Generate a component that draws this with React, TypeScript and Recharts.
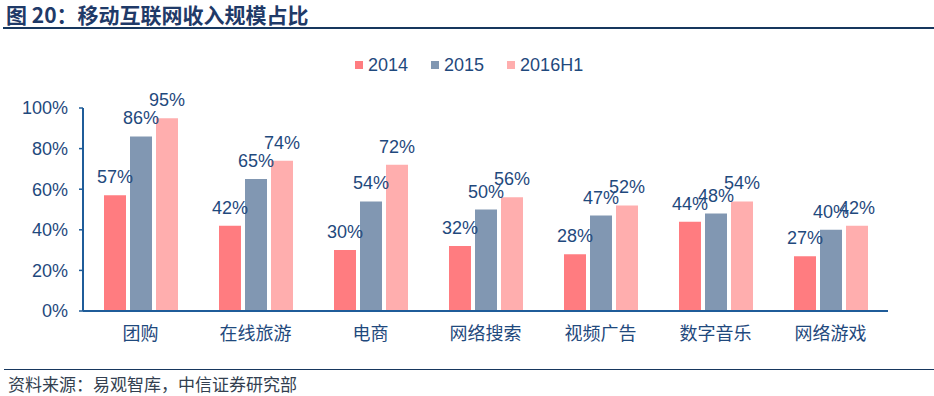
import React from "react";
import { BarChart, Bar, XAxis, YAxis, LabelList } from "recharts";

const categories = ["团购", "在线旅游", "电商", "网络搜索", "视频广告", "数字音乐", "网络游戏"];
const series2014 = [0.57, 0.42, 0.3, 0.32, 0.28, 0.44, 0.27];
const series2015 = [0.86, 0.65, 0.54, 0.5, 0.47, 0.48, 0.4];
const series2016H1 = [0.95, 0.74, 0.72, 0.56, 0.52, 0.54, 0.42];
const yTicks = [0, 0.2, 0.4, 0.6, 0.8, 1];

const seriesList = [
  { key: "y2014", name: "2014", color: "#FF7C80" },
  { key: "y2015", name: "2015", color: "#8197B2" },
  { key: "y2016H1", name: "2016H1", color: "#FFAEAE" },
];

const data = categories.map((c, i) => ({
  name: c,
  y2014: series2014[i],
  y2015: series2015[i],
  y2016H1: series2016H1[i],
}));

const FONT = "'Liberation Sans', Arial, 'Noto Sans CJK SC', sans-serif";
const TEXT = "#1F497D";
const AXIS = "#1F5C99";
const pct = (v: number) => `${Math.round(v * 100)}%`;

export default function App() {
  return (
    <div
      style={{
        position: "absolute",
        left: 0,
        top: 0,
        width: 934,
        height: 396,
        background: "#fff",
        fontFamily: FONT,
        overflow: "hidden",
      }}
    >
      <div
        style={{
          position: "absolute",
          left: 6,
          top: 1,
          fontSize: 21,
          fontWeight: "bold",
          color: "#1F3A68",
          fontFamily: "'Noto Sans CJK SC', sans-serif",
          whiteSpace: "nowrap",
          lineHeight: "26px",
        }}
      >
        图 20：移动互联网收入规模占比
      </div>
      <div
        style={{
          position: "absolute",
          left: 3,
          right: 0,
          top: 27,
          height: 2,
          background: "#17375E",
        }}
      />
      <div
        style={{
          position: "absolute",
          top: 54,
          left: 355,
          display: "flex",
          alignItems: "center",
          fontSize: 18,
          color: TEXT,
          lineHeight: "22px",
        }}
      >
        {seriesList.map((s, i) => (
          <div key={s.key} style={{ display: "flex", alignItems: "center", marginRight: i < 2 ? 23 : 0 }}>
            <span style={{ width: 8, height: 8, background: s.color, display: "inline-block", marginRight: 5 }} />
            <span>{s.name}</span>
          </div>
        ))}
      </div>
      <div style={{ position: "absolute", left: 0, top: 0 }}>
        <BarChart
          width={934}
          height={396}
          data={data}
          margin={{ top: 108, right: 46, left: 0, bottom: 55 }}
          barCategoryGap={21}
          barGap={4}
        >
          <XAxis
            dataKey="name"
            axisLine={{ stroke: AXIS, strokeWidth: 2 }}
            tickLine={false}
            tickSize={0}
            tickMargin={16}
            height={30}
            tick={{ fill: TEXT, fontSize: 18, fontFamily: "'Noto Sans CJK SC', sans-serif" }}
            interval={0}
          />
          <YAxis
            domain={[0, 1]}
            ticks={yTicks}
            tickFormatter={pct}
            width={83}
            axisLine={{ stroke: AXIS, strokeWidth: 2 }}
            tickLine={{ stroke: AXIS, strokeWidth: 1.5 }}
            tickSize={4}
            tickMargin={11}
            tick={{ fill: TEXT, fontSize: 18, fontFamily: FONT }}
          />
          {seriesList.map((s) => (
            <Bar key={s.key} dataKey={s.key} name={s.name} fill={s.color} isAnimationActive={false}>
              <LabelList
                dataKey={s.key}
                position="top"
                offset={12}
                formatter={(v: any) => pct(Number(v))}
                style={{ fill: TEXT, fontSize: 18, fontFamily: FONT }}
              />
            </Bar>
          ))}
        </BarChart>
      </div>
      <div
        style={{
          position: "absolute",
          left: 4,
          right: 0,
          top: 369,
          height: 1,
          background: "#17375E",
        }}
      />
      <div
        style={{
          position: "absolute",
          left: 8,
          top: 373,
          fontSize: 17,
          color: "#333F50",
          fontFamily: "'Noto Sans CJK SC', sans-serif",
          whiteSpace: "nowrap",
          lineHeight: "22px",
        }}
      >
        资料来源：易观智库，中信证券研究部
      </div>
    </div>
  );
}
